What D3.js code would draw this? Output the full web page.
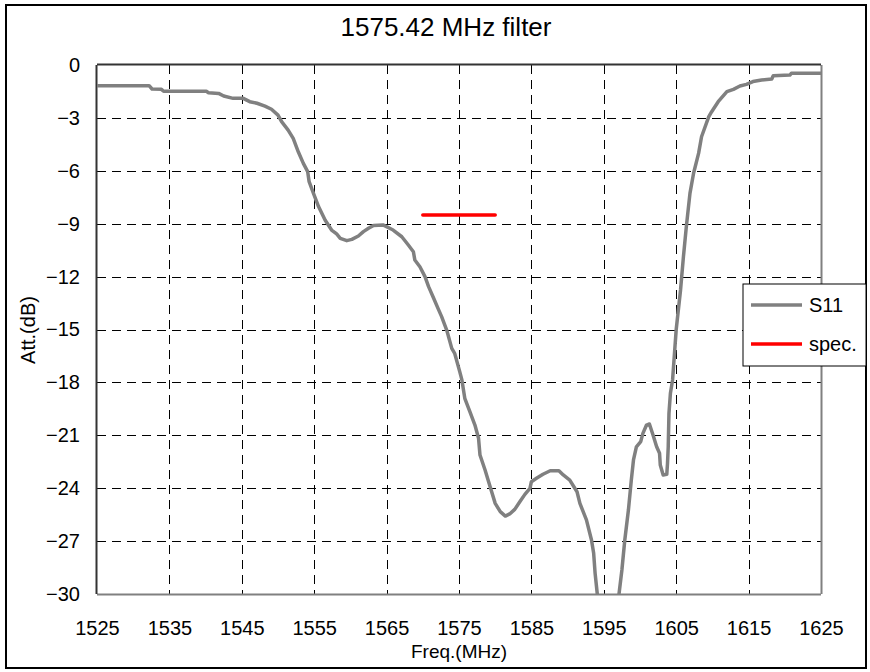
<!DOCTYPE html>
<html><head><meta charset="utf-8">
<script src="https://cdn.jsdelivr.net/npm/d3@7"></script>
<style>body{margin:0;background:#fff}svg text{font-family:"Liberation Sans",Arial,sans-serif}</style>
</head><body><svg id="c" width="870" height="672"></svg>
<script>
const title = "1575.42 MHz filter";
const xTicks = [1525,1535,1545,1555,1565,1575,1585,1595,1605,1615,1625];
const yTicks = [0,-3,-6,-9,-12,-15,-18,-21,-24,-27,-30];
const s11Freq = [1525,1532.2,1532.6,1533.9,1534.2,1540.1,1540.4,1541.8,1542.5,1543.8,1545.2,1546.1,1547.1,1548.2,1549.1,1550.0,1550.5,1551.4,1552.1,1552.8,1553.5,1554.1,1554.3,1554.9,1555.6,1556.5,1557.4,1558.1,1558.6,1559.5,1560.2,1561.1,1561.8,1562.5,1563.2,1564.5,1565.9,1567.1,1568.0,1568.7,1568.9,1569.6,1570.3,1570.8,1571.5,1572.1,1572.6,1573.3,1574.0,1574.4,1575.1,1575.4,1575.8,1576.5,1577.2,1577.7,1577.9,1578.6,1579.3,1580.0,1580.7,1581.4,1582.0,1582.7,1583.4,1584.1,1584.8,1585.0,1585.7,1586.6,1587.6,1588.8,1589.4,1590.3,1591.3,1591.7,1592.6,1593.3,1593.6,1593.8,1594.1,1594.3,1595.5,1596.9,1597.1,1597.5,1597.9,1598.4,1598.8,1599.1,1599.5,1600.1,1600.4,1600.9,1601.3,1601.8,1602.3,1602.7,1602.8,1603.2,1603.7,1603.8,1603.9,1604.0,1604.2,1604.5,1605.0,1605.6,1606.0,1606.4,1606.9,1607.4,1608.1,1608.5,1609.5,1609.9,1610.8,1612.0,1612.9,1613.8,1614.7,1615.6,1616.8,1618.2,1618.4,1620.7,1620.9,1625];
const s11Att = [-1.17,-1.17,-1.36,-1.38,-1.49,-1.49,-1.57,-1.61,-1.76,-1.89,-1.89,-2.08,-2.17,-2.33,-2.51,-2.84,-3.21,-3.69,-4.16,-4.92,-5.58,-6.05,-6.62,-7.28,-8.03,-8.79,-9.36,-9.58,-9.83,-9.96,-9.89,-9.70,-9.45,-9.26,-9.10,-9.07,-9.36,-9.74,-10.21,-10.59,-11.06,-11.44,-12.0,-12.57,-13.23,-13.8,-14.27,-15.03,-16.07,-16.35,-17.39,-17.86,-18.9,-19.66,-20.42,-21.17,-22.12,-22.97,-23.92,-24.86,-25.33,-25.58,-25.46,-25.2,-24.77,-24.35,-24.01,-23.63,-23.44,-23.21,-23.01,-23.01,-23.25,-23.54,-24.2,-24.86,-25.8,-26.94,-27.69,-28.83,-30.0,-30.8,-33,-30.8,-30.0,-28.64,-26.94,-25.24,-23.54,-22.4,-21.65,-21.36,-20.89,-20.42,-20.36,-20.98,-21.65,-22.02,-22.68,-23.25,-23.21,-22.59,-21.65,-19.75,-18.62,-17.86,-15.0,-12.76,-10.87,-9.17,-7.28,-6.14,-5.0,-4.07,-2.93,-2.65,-2.08,-1.51,-1.38,-1.19,-1.10,-0.94,-0.85,-0.79,-0.61,-0.57,-0.47,-0.47];
const specFreq = [1570, 1580];
const specAtt = [-8.5, -8.5];
const legendNames = ["S11", "spec."];
const legendColors = ["#808080", "#ff0000"];

const svg = d3.select("#c");
const L = 97, R = 821, T = 65, B = 594;
const x = d3.scaleLinear().domain([1525,1625]).range([L,R]);
const y = d3.scaleLinear().domain([0,-30]).range([T,B]);

// outer frame
svg.append("rect").attr("x",6).attr("y",5).attr("width",860).attr("height",663)
  .attr("fill","none").attr("stroke","#000").attr("stroke-width",2);

svg.append("text").attr("x",446).attr("y",36).attr("text-anchor","middle")
  .attr("font-size",26).text(title);

// grid
const g = svg.append("g");
xTicks.slice(1,-1).forEach(v=>{
  g.append("line").attr("x1",Math.round(x(v))+0.5).attr("x2",Math.round(x(v))+0.5)
   .attr("y1",T).attr("y2",B).attr("stroke","#000").attr("stroke-dasharray","9,6");
});
yTicks.slice(1,-1).forEach(v=>{
  g.append("line").attr("y1",Math.round(y(v))+0.5).attr("y2",Math.round(y(v))+0.5)
   .attr("x1",L).attr("x2",R).attr("stroke","#000").attr("stroke-dasharray","9,6");
});

// axes via d3 (labels only)
const xa = svg.append("g").attr("transform",`translate(0,${B})`)
  .call(d3.axisBottom(x).tickValues(xTicks).tickSize(0).tickPadding(27).tickFormat(d3.format("d")));
xa.select(".domain").remove();
xa.selectAll("text").attr("font-size",20).attr("font-family","Liberation Sans, Arial").attr("fill","#000");
const ya = svg.append("g").attr("transform",`translate(${L},0)`)
  .call(d3.axisLeft(y).tickValues(yTicks).tickSize(0).tickPadding(17).tickFormat(d3.format("d")));
ya.select(".domain").remove();
ya.selectAll("text").attr("font-size",20).attr("font-family","Liberation Sans, Arial").attr("fill","#000");

svg.append("text").attr("x",459).attr("y",658).attr("text-anchor","middle").attr("font-size",19).text("Freq.(MHz)");
svg.append("text").attr("transform","translate(35,330) rotate(-90)").attr("text-anchor","middle").attr("font-size",20).text("Att.(dB)");

// clip
svg.append("defs").append("clipPath").attr("id","pc").append("rect")
  .attr("x",L).attr("y",T).attr("width",R-L).attr("height",B-T);

const line = d3.line().x(d=>x(d[0])).y(d=>y(d[1]));
const s11 = s11Freq.map((f,i)=>[f,s11Att[i]]);
const spec = specFreq.map((f,i)=>[f,specAtt[i]]);

// plot border
svg.append("line").attr("x1",L).attr("x2",R).attr("y1",B+0.5).attr("y2",B+0.5).attr("stroke","#808080").attr("stroke-width",2);
svg.append("line").attr("x1",R+0.5).attr("x2",R+0.5).attr("y1",T).attr("y2",B).attr("stroke","#808080").attr("stroke-width",2);
svg.append("line").attr("x1",L).attr("x2",R).attr("y1",T-0.5).attr("y2",T-0.5).attr("stroke","#333").attr("stroke-width",2);
svg.append("line").attr("x1",L-0.5).attr("x2",L-0.5).attr("y1",T).attr("y2",B).attr("stroke","#333").attr("stroke-width",2);

svg.append("path").datum(s11).attr("d",line).attr("clip-path","url(#pc)")
  .attr("fill","none").attr("stroke","#808080").attr("stroke-width",3.5).attr("stroke-linejoin","round");
svg.append("path").datum(spec).attr("d",line)
  .attr("fill","none").attr("stroke","#ff0000").attr("stroke-width",3.5).attr("stroke-linecap","round");

// legend
const lg = svg.append("g");
lg.append("rect").attr("x",743).attr("y",284).attr("width",123).attr("height",82)
  .attr("fill","#fff").attr("stroke","#000").attr("stroke-width",1);
legendNames.forEach((n,i)=>{
  const yy = 305 + i*39;
  lg.append("line").attr("x1",751).attr("x2",802).attr("y1",yy).attr("y2",yy)
    .attr("stroke",legendColors[i]).attr("stroke-width",3.5);
  lg.append("text").attr("x",809).attr("y",yy+7).attr("font-size",20).text(n);
});
</script></body></html>
